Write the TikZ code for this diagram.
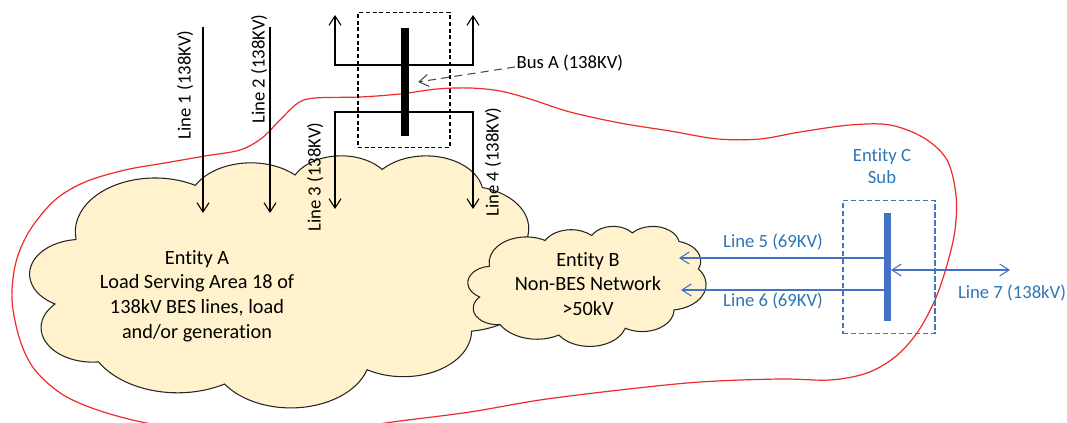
\documentclass[tikz,border=0pt]{standalone}
\usepackage{fontspec}
\setmainfont{Carlito}[Ligatures={NoCommon}]
\usetikzlibrary{arrows.meta}

\definecolor{cloudfill}{HTML}{FFF2CC}
\definecolor{linkblue}{HTML}{4472C4}
\definecolor{textblue}{HTML}{2E75B6}
\definecolor{zonered}{HTML}{EE2A2A}

% one puff of the cloud: x radius, y radius, start and sweep angle
\newcommand{\puffarc}[4]{arc[x radius=#1, y radius=#2,
  start angle={atan2(#1*sin(#3),#2*cos(#3))},
  delta angle={#4+Mod(atan2(#1*sin(#3+#4),#2*cos(#3+#4))-atan2(#1*sin(#3),#2*cos(#3))-(#4)+180,360)-180}]}
% cloud outline on a 432 x 432 grid
\newcommand{\cloudpath}{(39,143.7)
  \puffarc{67.53}{91.90}{-190.4875}{123.7805}
  \puffarc{53.33}{72.67}{-144.1024}{89.9452}
  \puffarc{43.65}{59.45}{-145.8079}{99.7230}
  \puffarc{48.57}{65.95}{-130.9861}{117.2417}
  \puffarc{53.33}{72.73}{-78.7089}{109.0269}
  \puffarc{67.75}{92.20}{-46.2673}{130.2690}
  \puffarc{57.85}{78.67}{0.6250}{114.0333}
  \puffarc{67.52}{92.15}{22.4516}{115.1726}
  \puffarc{77.20}{105.43}{66.2426}{75.7110}
  \puffarc{43.60}{59.18}{-274.9421}{146.7356}
  \puffarc{43.45}{59.45}{-246.8285}{152.5189} -- cycle}

\begin{document}
\begin{tikzpicture}[x=0.75pt, y=-0.75pt,
    >={Straight Barb[length=7pt,width=9pt]},
    lbl/.style={font=\fontsize{14}{17}\selectfont, inner sep=1pt},
    area/.style={draw=black!85, fill=cloudfill, line width=0.8pt},
    areatext/.style={align=center, font=\fontsize{15.2}{18.4}\selectfont},
    wire/.style={line width=0.8pt}]
\useasboundingbox (0,0) rectangle (1067,423);

% Red boundary round the whole area
\draw[zonered, line width=0.9pt] plot[smooth cycle, tension=0.55] coordinates {
  (12,300) (16,262) (30,230) (55,200) (85,182) (125,170) (165,163) (205,156)
  (240,150) (262,138) (280,120) (298,103) (315,98) (360,97) (400,94) (437,89)
  (470,88) (500,91) (530,99) (570,112) (620,123) (670,131) (718,139) (760,139)
  (800,132) (850,125) (890,125) (924,138) (947,160) (956,195) (955,230)
  (947,265) (935,300) (917,333) (895,357) (867,373) (830,380) (780,379)
  (700,382) (620,390) (540,400) (470,412) (400,421) (330,430) (250,432)
  (170,427) (110,414) (65,396) (35,370) (20,340)};

% Entity A and Entity B clouds
\draw[area, shift={(30,155)}, xscale=510/432, yscale=252/432] \cloudpath;
\node[areatext] (textA) at (197,296)
  {Entity A\\Load Serving Area 18 of\\138kV BES lines, load\\and/or generation};
\draw[area, shift={(468,226)}, xscale=238/432, yscale=120/432] \cloudpath;
\node[areatext] (textB) at (588,284) {Entity B\\Non-BES Network\\>50kV};

% Lines 1 and 2 coming in from the top
\coordinate (l1top) at (203,27);
\coordinate (l1end) at (203,213);
\coordinate (l2top) at (270,27);
\coordinate (l2end) at (270,213);
\draw[wire, ->] (l1top) -- (l1end);
\draw[wire, ->] (l2top) -- (l2end);
\node[lbl, rotate=90] (l1lab) at (185,85) {Line 1 (138KV)};
\node[lbl, rotate=90] (l2lab) at (259,69) {Line 2 (138KV)};

% Bus A with its box and bar
\node[draw, dash pattern=on 3pt off 2pt, line width=0.8pt,
  minimum width=69pt, minimum height=101pt] (boxA) at (404,80) {};
\node[fill=black, inner sep=0pt, minimum width=6pt, minimum height=81pt] (barA) at (405,82) {};
\coordinate (upL) at (335,15);
\coordinate (upR) at (473,15);
\coordinate (hiL) at (335,65);
\coordinate (hiR) at (473,65);
\draw[wire, <->] (upL) -- (hiL) -- (hiR) -- (upR);

% Lines 3 and 4 going down into Entity A
\coordinate (loL) at (335,112);
\coordinate (loR) at (473,112);
\coordinate (l3end) at (335,209);
\coordinate (l4end) at (473,209);
\draw[wire, <->] (l3end) -- (loL) -- (loR) -- (l4end);
\node[lbl, rotate=90] (l3lab) at (315,177) {Line 3 (138KV)};
\node[lbl, rotate=90] (l4lab) at (493,162) {Line 4 (138KV)};

% Bus A label with dashed pointer
\node[lbl, anchor=west] (busAlab) at (515,63) {Bus A (138KV)};
\coordinate (busAtip) at (418,82);
\draw[black!70, line width=0.8pt, dash pattern=on 6pt off 4pt, ->]
  ([yshift=-3pt]busAlab.west) -- (busAtip);

% Entity C substation
\node[lbl, textblue, align=center] (subClab) at (882,166) {Entity C\\Sub};
\node[draw=linkblue, dash pattern=on 4pt off 2pt, line width=0.9pt,
  minimum width=69pt, minimum height=100pt] (boxC) at (889,267) {};
\node[fill=linkblue, inner sep=0pt, minimum width=5.25pt, minimum height=81pt] (barC) at (887,267) {};

% Lines 5, 6 and 7
\coordinate (l5a) at (884,258);
\coordinate (l5b) at (679,258);
\coordinate (l6a) at (884,290);
\coordinate (l6b) at (681,290);
\coordinate (l7a) at (891,270);
\coordinate (l7b) at (1010,270);
\draw[wire, linkblue, ->] (l5a) -- (l5b);
\draw[wire, linkblue, ->] (l6a) -- (l6b);
\draw[wire, linkblue, <->] (l7a) -- (l7b);
\node[lbl, textblue] (l5lab) at (773,242) {Line 5 (69KV)};
\node[lbl, textblue] (l6lab) at (773,301) {Line 6 (69KV)};
\node[lbl, textblue] (l7lab) at (1012,293) {Line 7 (138kV)};
\end{tikzpicture}
\end{document}
